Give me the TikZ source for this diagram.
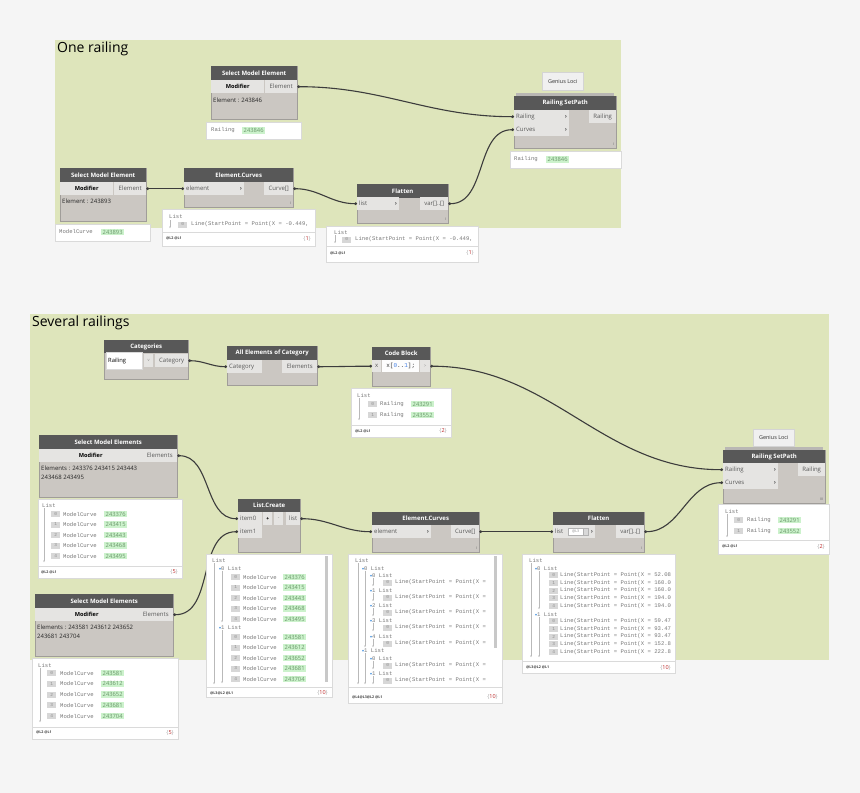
\documentclass[tikz,border=0pt]{standalone}
\usepackage{fontspec}
\setmainfont{Open Sans}
\setmonofont{Liberation Mono}
\newfontfamily\symfont{DejaVu Sans}
\usetikzlibrary{arrows.meta}

\definecolor{bgcol}{RGB}{245,245,245}
\definecolor{grpcol}{RGB}{222,229,187}
\definecolor{headcol}{RGB}{88,88,88}
\definecolor{bodycol}{RGB}{203,199,194}
\definecolor{edgecol}{RGB}{160,157,153}
\definecolor{portcol}{RGB}{229,228,226}
\definecolor{prevedge}{RGB}{218,218,218}
\definecolor{hlcol}{RGB}{204,242,204}
\definecolor{hltext}{RGB}{105,150,105}
\definecolor{idxcol}{RGB}{215,215,215}
\definecolor{idxtext}{RGB}{140,140,140}
\definecolor{treecol}{RGB}{185,185,185}
\definecolor{expcol}{RGB}{60,140,220}
\definecolor{codeblue}{RGB}{70,130,230}
\definecolor{cntred}{RGB}{190,40,40}
\definecolor{wirecol}{RGB}{60,60,60}
\definecolor{monocol}{RGB}{120,120,120}
\definecolor{tagcol}{RGB}{240,240,240}
\definecolor{tagedge}{RGB}{212,212,212}
\definecolor{stackcol}{RGB}{185,183,180}
\definecolor{scrollcol}{RGB}{200,200,200}

\newcommand{\fsz}[1]{\fontsize{#1}{#1}\selectfont}
\newcommand{\inlabel}[2]{\makebox[#1][l]{#2\hfill\textbf{›}}}
\newcommand{\expmark}{{\symfont\fsz{4}\textcolor{expcol}{▾}}}
\newcommand{\pcount}[1]{\textcolor{black!35}{\{}\textcolor{cntred}{#1}\textcolor{black!35}{\}}}

\tikzset{
  grp/.style={fill=grpcol},
  grptitle/.style={anchor=west, inner sep=0pt, font=\fsz{14}},
  dbody/.style={anchor=north west, inner sep=0pt, fill=bodycol, draw=edgecol, line width=0.7pt},
  dhead/.style={anchor=north west, inner sep=0pt, minimum height=14pt, fill=headcol, text=white, font=\fsz{6}\bfseries},
  dport/.style={anchor=north west, inner sep=0pt, minimum height=13pt, fill=portcol, text=black!65, font=\fsz{6}},
  dinport/.style={dport, inner xsep=2pt},
  dmod/.style={dport, text=black, font=\fsz{5.6}\bfseries},
  dval/.style={anchor=west, inner sep=0pt, text=black!85, font=\fsz{6}},
  lace/.style={anchor=south east, inner sep=0pt, text=black!60, font=\fsz{3.5}},
  stack/.style={anchor=north west, inner sep=0pt, minimum height=5pt, fill=stackcol},
  tag/.style={anchor=north west, inner sep=0pt, fill=tagcol, draw=tagedge, line width=0.5pt, text=black!80, font=\fsz{5.5}},
  prev/.style={anchor=north west, inner sep=0pt, fill=white, draw=prevedge, line width=0.5pt},
  mono/.style={anchor=west, inner sep=0pt, text=monocol, font=\ttfamily\fsz{5.6}},
  idhl/.style={anchor=west, inner xsep=1.5pt, inner ysep=1pt, fill=hlcol, text=hltext, font=\fsz{5.8}},
  idx/.style={anchor=west, inner sep=0pt, minimum width=9pt, minimum height=6pt, fill=idxcol, text=idxtext, font=\ttfamily\fsz{4.5}},
  tree/.style={draw=treecol, line width=0.5pt, -{Stealth[length=1.6pt,width=1.8pt]}},
  divider/.style={draw=prevedge, line width=0.5pt},
  foot/.style={anchor=west, inner sep=0pt, text=black!75, font=\fsz{3.6}\bfseries},
  count/.style={anchor=east, inner sep=0pt, font=\fsz{5.5}},
  scroll/.style={anchor=north west, inner sep=0pt, minimum width=3pt, fill=scrollcol},
  spin/.style={anchor=west, inner sep=0.5pt, minimum width=15pt, minimum height=7pt, fill=white, draw=black!30, line width=0.3pt, text=black!50, font=\fsz{3.5}},
  wire/.style={draw=wirecol, line width=1.1pt, {Circle[length=2.6pt]}-{Circle[length=2.6pt]}}
}

\begin{document}
\begin{tikzpicture}[x=1pt,y=-1pt]

    \useasboundingbox (0,0) rectangle (860,793);
    \fill[bgcol] (0,0) rectangle (860,793);

    % Groups
    \fill[grp] (55,40) rectangle (621,228);
    \node[grptitle] (titleA) at (57,49) {One railing};
    \fill[grp] (30,314) rectangle (829,660);
    \node[grptitle] (titleB) at (32,323) {Several railings};

    % ================= One railing =================

    % Select Model Element (railing)
    \node[dbody, minimum width=86pt, minimum height=53pt] (smeA) at (211,66) {};
    \node[dhead, minimum width=86pt] (smeAhead) at (211,66) {Select Model Element};
    \node[dmod, minimum width=53pt] (smeAmod) at (211,80) {Modifier};
    \node[dport, minimum width=32pt] (smeAout) at (265,80) {Element};
    \node[dval] (smeAval) at (213,100) {Element : 243846};

    % Select Model Element (curve)
    \node[dbody, minimum width=86pt, minimum height=53pt] (smeB) at (60,168) {};
    \node[dhead, minimum width=86pt] (smeBhead) at (60,168) {Select Model Element};
    \node[dmod, minimum width=53pt] (smeBmod) at (60,182) {Modifier};
    \node[dport, minimum width=32pt] (smeBout) at (114,182) {Element};
    \node[dval] (smeBval) at (62,201) {Element : 243893};

    % Element.Curves
    \node[dbody, minimum width=109pt, minimum height=39pt] (ecA) at (184,168) {};
    \node[dhead, minimum width=109pt] (ecAhead) at (184,168) {Element.Curves};
    \node[dinport] (ecAin) at (184,182) {\inlabel{56pt}{element}};
    \node[dport, minimum width=29pt] (ecAout) at (264,182) {Curve[]};
    \node[lace] (ecAlace) at (291,205) {I};

    % Flatten
    \node[dbody, minimum width=91pt, minimum height=39pt] (flA) at (357,184) {};
    \node[dhead, minimum width=91pt] (flAhead) at (357,184) {Flatten};
    \node[dinport] (flAin) at (357,197) {\inlabel{38pt}{list}};
    \node[dport, minimum width=28pt] (flAout) at (420,197) {var[]..[]};
    \node[lace] (flAlace) at (446,221) {I};

    % Railing SetPath (Genius Loci)
    \node[tag, minimum width=41pt, minimum height=18pt] (glA) at (542,72) {Genius Loci};
    \node[stack, minimum width=98pt] (rspAstack) at (516,93) {};
    \node[dbody, minimum width=102pt, minimum height=52pt] (rspA) at (514,96) {};
    \node[dhead, minimum width=102pt] (rspAhead) at (514,96) {Railing SetPath};
    \node[dinport] (rspAin1) at (514,110) {\inlabel{51pt}{Railing}};
    \node[dinport] (rspAin2) at (514,123) {\inlabel{51pt}{Curves}};
    \node[dport, minimum width=27pt] (rspAout) at (589,110) {Railing};
    \node[lace] (rspAlace) at (614,146) {I};

    % Wires
    \draw[wire] (smeAout.east) to[out=0,in=180] (rspAin1.west);
    \draw[wire] (smeBout.east) to[out=0,in=180] (ecAin.west);
    \draw[wire] (ecAout.east) to[out=0,in=180] (flAin.west);
    \draw[wire] (flAout.east) to[out=0,in=180] (rspAin2.west);

    % Previews
    \node[prev, minimum width=95pt, minimum height=17pt] (smeAprev) at (206,122) {};
    \node[mono] (smeAtype) at (211,130.5) {Railing};
    \node[idhl] (smeAid) at (242,130.5) {243846};

    \node[prev, minimum width=95pt, minimum height=17pt] (smeBprev) at (55,224) {};
    \node[mono] (smeBtype) at (59,232) {ModelCurve};
    \node[idhl] (smeBid) at (101,232) {243893};

    \node[prev, minimum width=153pt, minimum height=37pt] (ecAprev) at (162,209) {};
    \node[mono] (ecAlist) at (169,216.5) {List};
    \draw[tree] (170,220) -- (170,228);
    \node[idx] (ecAidx) at (178,224.5) {0};
    \node[mono] (ecAline) at (191,224.5) {Line(StartPoint = Point(X = -0.449,};
    \draw[divider] (162,232) -- (315,232);
    \node[foot] (ecAfoot) at (166,238.5) {@L2 @L1};
    \node[count] (ecAcount) at (311,238.5) {\pcount{1}};

    \node[prev, minimum width=152pt, minimum height=36pt] (flAprev) at (326,226) {};
    \node[mono] (flAlist) at (334,232) {List};
    \draw[tree] (335,235) -- (335,243);
    \node[idx] (flAidx) at (342,239.5) {0};
    \node[mono] (flAline) at (355,239.5) {Line(StartPoint = Point(X = -0.449,};
    \draw[divider] (326,246) -- (478,246);
    \node[foot] (flAfoot) at (330,253) {@L2 @L1};
    \node[count] (flAcount) at (474,253) {\pcount{1}};

    \node[prev, minimum width=111pt, minimum height=17pt] (rspAprev) at (510,151) {};
    \node[mono] (rspAtype) at (514,159.5) {Railing};
    \node[idhl] (rspAid) at (546,159.5) {243846};

    % ================= Several railings =================

    % Categories
    \node[dbody, minimum width=84pt, minimum height=39pt] (cat) at (104,340) {};
    \node[dhead, minimum width=84pt, minimum height=13pt] (cathead) at (104,340) {Categories};
    \node[anchor=north west, inner xsep=2pt, inner ysep=0pt, minimum height=17pt, fill=white, draw=black!15, line width=0.4pt, font=\fsz{5.8}] (catdrop) at (106,352) {\makebox[32pt][l]{Railing}};
    \node[dport, minimum width=9pt, text=black!45, font=\fsz{4}] (catarrow) at (144,354) {v};
    \node[dport, minimum width=33pt] (catout) at (155,354) {Category};

    % All Elements of Category
    \node[dbody, minimum width=90pt, minimum height=39pt] (aec) at (227,346) {};
    \node[dhead, minimum width=90pt] (aechead) at (227,346) {All Elements of Category};
    \node[dinport] (aecin) at (227,360) {\makebox[31pt][l]{Category}};
    \node[dport, minimum width=35pt] (aecout) at (282,360) {Elements};

    % Code Block
    \node[dbody, minimum width=58pt, minimum height=39pt] (cb) at (372,347) {};
    \node[dhead, minimum width=58pt, minimum height=13pt] (cbhead) at (372,347) {Code Block};
    \node[dport, minimum width=9pt, minimum height=12pt] (cbx) at (372,360) {x};
    \node[dport, minimum width=37pt, minimum height=12pt, fill=white!92!portcol, text=black!80, font=\ttfamily\fsz{6}] (cbcode) at (382,360) {x[\textcolor{codeblue}{0}..\textcolor{codeblue}{1}];};
    \node[dport, minimum width=10pt, minimum height=12pt, text=black!40, font=\fsz{4.5}] (cbout) at (420,360) {>};

    % Select Model Elements (first set)
    \node[dbody, minimum width=138pt, minimum height=62pt] (smeC) at (39,435) {};
    \node[dhead, minimum width=138pt] (smeChead) at (39,435) {Select Model Elements};
    \node[dmod, minimum width=103pt] (smeCmod) at (39,449) {Modifier};
    \node[dport, minimum width=35pt] (smeCout) at (142,449) {Elements};
    \node[dval] (smeCval1) at (41,468) {Elements : 243376 243415 243443};
    \node[dval] (smeCval2) at (41,477) {243468 243495};

    % Select Model Elements (second set)
    \node[dbody, minimum width=138pt, minimum height=62pt] (smeD) at (35,594) {};
    \node[dhead, minimum width=138pt] (smeDhead) at (35,594) {Select Model Elements};
    \node[dmod, minimum width=103pt] (smeDmod) at (35,608) {Modifier};
    \node[dport, minimum width=35pt] (smeDout) at (138,608) {Elements};
    \node[dval] (smeDval1) at (37,627) {Elements : 243581 243612 243652};
    \node[dval] (smeDval2) at (37,636) {243681 243704};

    % List.Create
    \node[dbody, minimum width=62pt, minimum height=53pt] (lc) at (238,499) {};
    \node[dhead, minimum width=62pt, minimum height=13pt] (lchead) at (238,499) {List.Create};
    \node[dinport] (lcin0) at (238,512) {\makebox[20pt][l]{item0}};
    \node[dport, minimum width=9pt, text=black, font=\fsz{5}\bfseries] (lcplus) at (263,512) {+};
    \node[dport, minimum width=9pt, text=black!50, font=\fsz{5}] (lcminus) at (274,512) {-};
    \node[dport, minimum width=14pt] (lcout) at (286,512) {list};
    \node[dinport] (lcin1) at (238,525) {\makebox[20pt][l]{item1}};

    % Element.Curves
    \node[dbody, minimum width=107pt, minimum height=40pt] (ecB) at (372,512) {};
    \node[dhead, minimum width=107pt, minimum height=13pt] (ecBhead) at (372,512) {Element.Curves};
    \node[dinport] (ecBin) at (372,525) {\inlabel{55pt}{element}};
    \node[dport, minimum width=28pt] (ecBout) at (451,525) {Curve[]};
    \node[lace] (ecBlace) at (477,550) {I};

    % Flatten
    \node[dbody, minimum width=91pt, minimum height=40pt] (flB) at (553,512) {};
    \node[dhead, minimum width=91pt, minimum height=13pt] (flBhead) at (553,512) {Flatten};
    \node[dinport] (flBin) at (553,525) {\inlabel{38pt}{list}};
    \node[spin] (flBspin) at (568,531.5) {@L3};
    \node[spin, minimum width=5pt, fill=black!15] (flBspinarr) at (583,531.5) {};
    \node[dport, minimum width=28pt] (flBout) at (616,525) {var[]..[]};
    \node[lace] (flBlace) at (642,550) {I};

    % Railing SetPath (Genius Loci)
    \node[tag, minimum width=41pt, minimum height=17pt] (glB) at (753,429) {Genius Loci};
    \node[stack, minimum width=98pt] (rspBstack) at (725,447) {};
    \node[dbody, minimum width=102pt, minimum height=53pt] (rspB) at (723,450) {};
    \node[dhead, minimum width=102pt, minimum height=13pt] (rspBhead) at (723,450) {Railing SetPath};
    \node[dinport] (rspBin1) at (723,463) {\inlabel{51pt}{Railing}};
    \node[dinport] (rspBin2) at (723,476) {\inlabel{51pt}{Curves}};
    \node[dport, minimum width=27pt] (rspBout) at (798,463) {Railing};
    \node[lace] (rspBlace) at (823,501) {III};

    % Wires
    \draw[wire] (catout.east) to[out=0,in=180] (aecin.west);
    \draw[wire] (aecout.east) to[out=0,in=180] (cbx.west);
    \draw[wire] (cbout.east) to[out=0,in=180] (rspBin1.west);
    \draw[wire] (smeCout.east) to[out=0,in=180] (lcin0.west);
    \draw[wire] (smeDout.east) to[out=0,in=180] (lcin1.west);
    \draw[wire] (lcout.east) to[out=0,in=180] (ecBin.west);
    \draw[wire] (ecBout.east) to[out=0,in=180] (flBin.west);
    \draw[wire] (flBout.east) to[out=0,in=180] (rspBin2.west);

    % Previews
    % Code Block
    \node[prev, minimum width=100pt, minimum height=49pt] (cbprev) at (351,388) {};
    \node[mono] (cblist) at (357,395) {List};
    \draw[tree] (359,398) -- (359,420);
    \foreach \i/\id [evaluate=\i as \ya using {404+11*\i}] in {0/243291,1/243552} {
        \node[idx] (cbidx\i) at (368,\ya) {\i};
        \node[mono] (cbtype\i) at (380,\ya) {Railing};
        \node[idhl] (cbid\i) at (411,\ya) {\id};
    }
    \draw[divider] (351,425) -- (451,425);
    \node[foot] (cbfoot) at (355,431) {@L2 @L1};
    \node[count] (cbcount) at (447,431) {\pcount{2}};

    % Railing SetPath
    \node[prev, minimum width=111pt, minimum height=50pt] (rspBprev) at (718,504) {};
    \node[mono] (rspBlist) at (725,511) {List};
    \draw[tree] (727,514) -- (727,537);
    \foreach \i/\id [evaluate=\i as \ya using {520+11*\i}] in {0/243291,1/243552} {
        \node[idx] (rspBidx\i) at (734,\ya) {\i};
        \node[mono] (rspBtype\i) at (747,\ya) {Railing};
        \node[idhl] (rspBid\i) at (778,\ya) {\id};
    }
    \draw[divider] (718,540) -- (829,540);
    \node[foot] (rspBfoot) at (722,546.5) {@L2 @L1};
    \node[count] (rspBcount) at (825,546.5) {\pcount{2}};

    % Select Model Elements (first set)
    \node[prev, minimum width=144pt, minimum height=79pt] (smeCprev) at (38,499) {};
    \node[mono] (smeClist) at (42,505) {List};
    \draw[tree] (44,508) -- (44,562);
    \foreach \i/\id [evaluate=\i as \ya using {514+10.5*\i}] in {0/243376,1/243415,2/243443,3/243468,4/243495} {
        \node[idx] (smeCidx\i) at (51,\ya) {\i};
        \node[mono] (smeCtype\i) at (63,\ya) {ModelCurve};
        \node[idhl] (smeCid\i) at (104,\ya) {\id};
    }
    \draw[divider] (38,566) -- (182,566);
    \node[foot] (smeCfoot) at (41,572) {@L2 @L1};
    \node[count] (smeCcount) at (178,572) {\pcount{5}};

    % Select Model Elements (second set)
    \node[prev, minimum width=146pt, minimum height=81pt] (smeDprev) at (32,658) {};
    \node[mono] (smeDlist) at (38,665) {List};
    \draw[tree] (40,668) -- (40,722);
    \foreach \i/\id [evaluate=\i as \ya using {673+10.75*\i}] in {0/243581,1/243612,2/243652,3/243681,4/243704} {
        \node[idx] (smeDidx\i) at (47,\ya) {\i};
        \node[mono] (smeDtype\i) at (60,\ya) {ModelCurve};
        \node[idhl] (smeDid\i) at (101,\ya) {\id};
    }
    \draw[divider] (32,727) -- (178,727);
    \node[foot] (smeDfoot) at (36,732.5) {@L2 @L1};
    \node[count] (smeDcount) at (174,732.5) {\pcount{5}};

    % List.Create
    \node[prev, minimum width=126pt, minimum height=143pt] (lcprev) at (206,554) {};
    \node[scroll, minimum height=126pt] (lcscroll) at (325,556) {};
    \node[mono] (lclist) at (212,560) {List};
    \draw[tree] (214,563) -- (214,684);
    \node[mono] (lcsub0) at (219,568) {\expmark0 List};
    \draw[tree] (222,571) -- (222,622);
    \node[mono] (lcsub1) at (219,627) {\expmark1 List};
    \draw[tree] (222,630) -- (222,683);
    \foreach \i/\id [evaluate=\i as \ya using {577+10.5*\i}] in {0/243376,1/243415,2/243443,3/243468,4/243495} {
        \node[idx] (lcAidx\i) at (231,\ya) {\i};
        \node[mono] (lcAtype\i) at (243,\ya) {ModelCurve};
        \node[idhl] (lcAid\i) at (283,\ya) {\id};
    }
    \foreach \i/\id [evaluate=\i as \ya using {637+10.5*\i}] in {0/243581,1/243612,2/243652,3/243681,4/243704} {
        \node[idx] (lcBidx\i) at (231,\ya) {\i};
        \node[mono] (lcBtype\i) at (243,\ya) {ModelCurve};
        \node[idhl] (lcBid\i) at (283,\ya) {\id};
    }
    \draw[divider] (206,687) -- (332,687);
    \node[foot] (lcfoot) at (210,693) {@L3@L2 @L1};
    \node[count] (lccount) at (328,693) {\pcount{10}};

    % Element.Curves
    \node[prev, minimum width=154pt, minimum height=149pt] (ecBprev) at (348,554) {};
    \node[scroll, minimum height=92pt] (ecBscroll) at (494,556) {};
    \node[mono] (ecBlist) at (355,560) {List};
    \draw[tree] (358,563) -- (358,684);
    \node[mono] (ecBsubA) at (362,568) {\expmark0 List};
    \draw[tree] (365,571) -- (365,647);
    \foreach \k/\yb in {0/575,1/590,2/605,3/620,4/636} {
        \node[mono] (ecBAsub\k) at (370,\yb) {\expmark\k\ List};
        \draw[tree] (373,\yb+3) -- (373,\yb+11);
        \node[idx] (ecBAidx\k) at (383,\yb+7.5) {0};
        \node[mono] (ecBAline\k) at (395,\yb+7.5) {Line(StartPoint = Point(X =};
    }
    \node[mono] (ecBsubB) at (362,650) {\expmark1 List};
    \draw[tree] (365,653) -- (365,684);
    \foreach \k/\yb in {0/658,1/673} {
        \node[mono] (ecBBsub\k) at (370,\yb) {\expmark\k\ List};
        \draw[tree] (373,\yb+3) -- (373,\yb+11);
        \node[idx] (ecBBidx\k) at (383,\yb+7.5) {0};
        \node[mono] (ecBBline\k) at (395,\yb+7.5) {Line(StartPoint = Point(X =};
    }
    \draw[divider] (348,687) -- (502,687);
    \node[foot] (ecBfoot) at (352,697) {@L4@L3@L2 @L1};
    \node[count] (ecBcount) at (498,697) {\pcount{10}};

    % Flatten
    \node[prev, minimum width=153pt, minimum height=119pt] (flBprev) at (522,554) {};
    \node[mono] (flBlist) at (529,560) {List};
    \draw[tree] (531,563) -- (531,657);
    \node[mono] (flBsub0) at (535,568) {\expmark0 List};
    \draw[tree] (539,571) -- (539,609);
    \node[mono] (flBsub1) at (535,614) {\expmark1 List};
    \draw[tree] (539,617) -- (539,657);
    \foreach \i/\v [evaluate=\i as \ya using {575+7.75*\i}] in {0/52.08,1/160.0,2/160.0,3/194.0,4/194.0} {
        \node[idx] (flBAidx\i) at (549,\ya) {\i};
        \node[mono] (flBAline\i) at (560,\ya) {Line(StartPoint = Point(X = \v};
    }
    \foreach \i/\v [evaluate=\i as \ya using {621+7.75*\i}] in {0/59.47,1/93.47,2/93.47,3/152.8,4/222.8} {
        \node[idx] (flBBidx\i) at (549,\ya) {\i};
        \node[mono] (flBBline\i) at (560,\ya) {Line(StartPoint = Point(X = \v};
    }
    \draw[divider] (522,661) -- (675,661);
    \node[foot] (flBfoot) at (526,667.5) {@L3@L2 @L1};
    \node[count] (flBcount) at (671,667.5) {\pcount{10}};

\end{tikzpicture}
\end{document}
